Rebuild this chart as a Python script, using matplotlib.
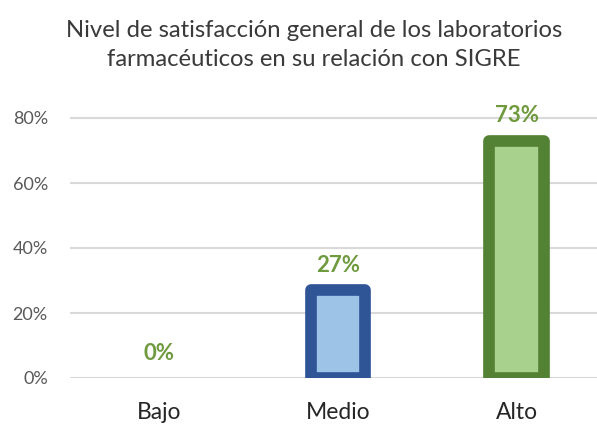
import matplotlib
matplotlib.use("Agg")
import matplotlib.pyplot as plt
from matplotlib.ticker import FuncFormatter

categories = ["Bajo", "Medio", "Alto"]
values = [0.0, 0.27, 0.73]
value_labels = ["0%", "27%", "73%"]
yticks = [0.0, 0.2, 0.4, 0.6, 0.8]

face_colors = ["#9DC3E6", "#9DC3E6", "#A9D18E"]
edge_colors = ["#2F5597", "#2F5597", "#548235"]

plt.rcParams['font.family'] = ['Lato', 'DejaVu Sans']

fig = plt.figure(figsize=(5.97, 4.24), dpi=100)
ax = fig.add_axes([70/597, (424-378)/424, (597-70)/597, (378-101.75)/424])

x = list(range(len(categories)))
lws = [8.4 if v > 0 else 0 for v in values]
bars = ax.bar(x, values, width=0.305, color=face_colors, edgecolor=edge_colors,
              linewidth=lws, zorder=3)
for b in bars:
    b.set_joinstyle('round')

for xi, v, lab in zip(x, values, value_labels):
    ax.annotate(lab, (xi, v), xytext=(0, 18), textcoords='offset points',
                ha='center', va='center', fontsize=16, fontweight='bold',
                color='#6F9A3E', zorder=4)

ax.set_xlim(-0.501, 2.45)
ax.set_ylim(0, 0.85)
ax.set_yticks(yticks)
ax.yaxis.set_major_formatter(FuncFormatter(lambda v, p: f"{v*100:.0f}%"))
ax.set_xticks(x)
ax.set_xticklabels(categories, fontsize=16.5, color='#262626')
ax.tick_params(axis='y', labelsize=13, labelcolor='#595959', length=0, pad=16)
ax.tick_params(axis='x', length=0, pad=17)
ax.grid(axis='y', color='#D9D9D9', linewidth=1.5, zorder=0)
for s in ax.spines.values():
    s.set_visible(False)

fig.text(314/597, 1 - 45/424,
         "Nivel de satisfacción general de los laboratorios\nfarmacéuticos en su relación con SIGRE",
         ha='center', va='center', fontsize=17.2, color='#3A3A3A', linespacing=1.42)

fig.savefig("out.png", dpi=100)
